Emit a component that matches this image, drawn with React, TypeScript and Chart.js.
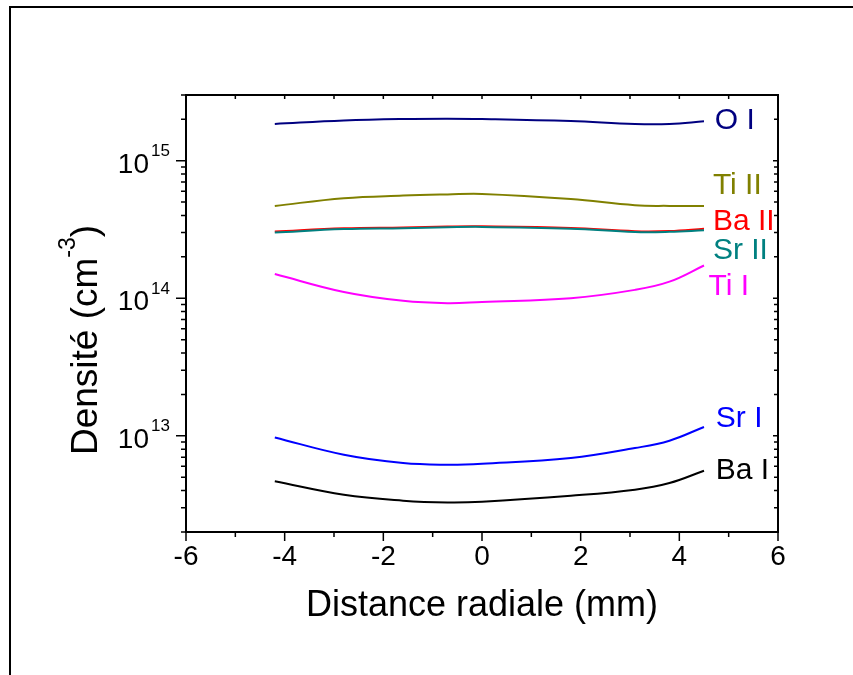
import React, { useEffect, useRef } from 'react';
import { Chart, registerables } from 'chart.js';

Chart.register(...registerables);

// ---- data ----
const radialDistance = [-4.2, -2.8, -1.6, -0.7, 0, 1.8, 3.1, 3.8, 4.5];
const densityOI = [1.85e15, 1.96e15, 2.01e15, 2.02e15, 2.01e15, 1.94e15, 1.85e15, 1.85e15, 1.93e15];
const densityTiII = [4.69e14, 5.33e14, 5.57e14, 5.68e14, 5.73e14, 5.26e14, 4.74e14, 4.69e14, 4.69e14];
const densityBaII = [3.05e14, 3.22e14, 3.27e14, 3.32e14, 3.33e14, 3.24e14, 3.07e14, 3.08e14, 3.2e14];
const densitySrII = [3.0e14, 3.18e14, 3.23e14, 3.28e14, 3.3e14, 3.2e14, 3.03e14, 3.04e14, 3.12e14];
const densityTiI = [1.5e14, 1.11e14, 9.57e13, 9.2e13, 9.4e13, 1.0e14, 1.15e14, 1.32e14, 1.73e14];
const densitySrI = [9.73e12, 7.29e12, 6.34e12, 6.17e12, 6.27e12, 6.9e12, 8.15e12, 9.22e12, 1.16e13];
const densityBaI = [4.67e12, 3.73e12, 3.38e12, 3.28e12, 3.32e12, 3.67e12, 4.06e12, 4.54e12, 5.58e12];

const seriesNames = ['O I', 'Ti II', 'Ba II', 'Sr II', 'Ti I', 'Sr I', 'Ba I'];
const seriesValues = [densityOI, densityTiII, densityBaII, densitySrII, densityTiI, densitySrI, densityBaI];
const seriesColors = ['#000080', '#808000', '#ff0000', '#008080', '#ff00ff', '#0000ff', '#000000'];
const seriesOrder = [0, 1, 3, 2, 4, 5, 6];
// label anchor (data coordinates)
const labelX = [4.72, 4.68, 4.68, 4.68, 4.59, 4.74, 4.74];
const labelY = [1.96e15, 6.55e14, 3.59e14, 2.21e14, 1.21e14, 1.33e13, 5.58e12];

const xMin = -6;
const xMax = 6;
const xMinorTicks = [-5, -3, -1, 1, 3, 5];
const yMin = 2e12;
const yMax = 3e15;
const yMajorTicks = [1e13, 1e14, 1e15];
const yExponents = ['13', '14', '15'];
const yMinorMantissas = [2, 3, 4, 5, 6, 7, 8, 9];

const xTitle = 'Distance radiale (mm)';
const yTitleMain = 'Densité (cm';
const yTitleSup = '-3';
const yTitleEnd = ')';

const FONT = "'Liberation Sans', Arial, Helvetica, sans-serif";

const decorPlugin = {
  id: 'decor',
  afterDraw(chart: any) {
    const ctx = chart.ctx as CanvasRenderingContext2D;
    const xs = chart.scales.x;
    const ys = chart.scales.y;
    const { left, right, top, bottom } = chart.chartArea;
    ctx.save();
    ctx.strokeStyle = '#000';
    ctx.fillStyle = '#000';

    // outer frame
    ctx.lineWidth = 2;
    ctx.beginPath();
    ctx.moveTo(10, 700);
    ctx.lineTo(10, 7);
    ctx.lineTo(900, 7);
    ctx.stroke();

    // plot box
    ctx.lineWidth = 2;
    ctx.beginPath();
    ctx.rect(left, top, right - left, bottom - top);
    ctx.stroke();

    // ticks
    ctx.lineWidth = 1.5;
    ctx.beginPath();
    const xMajor: number[] = xs.ticks.map((t: any) => t.value);
    xMajor.forEach((v) => {
      const px = xs.getPixelForValue(v);
      ctx.moveTo(px, bottom);
      ctx.lineTo(px, bottom + 9);
      ctx.moveTo(px, top);
      ctx.lineTo(px, top + 4);
    });
    xMinorTicks.forEach((v) => {
      const px = xs.getPixelForValue(v);
      ctx.moveTo(px, bottom);
      ctx.lineTo(px, bottom + 5);
      ctx.moveTo(px, top);
      ctx.lineTo(px, top + 4);
    });
    const decades = [12, 13, 14, 15];
    decades.forEach((e) => {
      const base = Math.pow(10, e);
      yMinorMantissas.forEach((m) => {
        const v = m * base;
        if (v < yMin || v > yMax) return;
        const py = ys.getPixelForValue(v);
        ctx.moveTo(left, py);
        ctx.lineTo(left - 5, py);
        ctx.moveTo(right, py);
        ctx.lineTo(right - 4, py);
      });
    });
    yMajorTicks.forEach((v) => {
      const py = ys.getPixelForValue(v);
      ctx.moveTo(left, py);
      ctx.lineTo(left - 10, py);
      ctx.moveTo(right, py);
      ctx.lineTo(right - 5, py);
    });
    ctx.stroke();

    // y tick labels with superscripts
    ctx.textBaseline = 'alphabetic';
    ctx.textAlign = 'left';
    yMajorTicks.forEach((v, i) => {
      const py = ys.getPixelForValue(v);
      ctx.font = `28px ${FONT}`;
      const w = ctx.measureText('10').width;
      ctx.fillText('10', 149 - w, py + 12);
      ctx.font = `17px ${FONT}`;
      ctx.fillText(yExponents[i], 151, py - 4.5);
    });

    // y title rotated
    ctx.save();
    ctx.translate(97, 340);
    ctx.rotate(-Math.PI / 2);
    ctx.font = `37px ${FONT}`;
    const w1 = ctx.measureText(yTitleMain).width;
    const w3 = ctx.measureText(yTitleEnd).width;
    ctx.font = `23px ${FONT}`;
    const w2 = ctx.measureText(yTitleSup).width;
    const total = w1 + w2 + w3;
    let x0 = -total / 2;
    ctx.font = `37px ${FONT}`;
    ctx.fillText(yTitleMain, x0, 0);
    x0 += w1;
    ctx.font = `23px ${FONT}`;
    ctx.fillText(yTitleSup, x0, -22);
    x0 += w2;
    ctx.font = `37px ${FONT}`;
    ctx.fillText(yTitleEnd, x0, 0);
    ctx.restore();

    // series labels
    ctx.font = `30px ${FONT}`;
    ctx.textBaseline = 'middle';
    ctx.textAlign = 'left';
    seriesNames.forEach((name, i) => {
      ctx.fillStyle = seriesColors[i];
      ctx.fillText(name, xs.getPixelForValue(labelX[i]), ys.getPixelForValue(labelY[i]));
    });

    ctx.restore();
  },
};

export default function App() {
  const canvasRef = useRef<HTMLCanvasElement | null>(null);

  useEffect(() => {
    document.body.style.margin = '0';
    const canvas = canvasRef.current;
    if (!canvas) return;
    const datasets = seriesNames.map((name, i) => ({
      label: name,
      data: radialDistance.map((x, j) => ({ x, y: seriesValues[i][j] })),
      borderColor: seriesColors[i],
      backgroundColor: seriesColors[i],
      borderWidth: 2,
      pointRadius: 0,
      tension: 0.4,
      fill: false,
      order: seriesOrder[i],
    }));
    const chart = new Chart(canvas, {
      type: 'line',
      data: { datasets },
      options: {
        responsive: false,
        animation: false,
        devicePixelRatio: 1,
        layout: { padding: { left: 0, right: 75, top: 95, bottom: 0 } },
        plugins: {
          legend: { display: false },
          tooltip: { enabled: false },
        },
        scales: {
          x: {
            type: 'linear',
            min: xMin,
            max: xMax,
            ticks: {
              stepSize: 2,
              color: '#000',
              font: { family: FONT, size: 28 },
              padding: 8,
              maxRotation: 0,
              autoSkip: false,
            },
            grid: { display: false, drawTicks: false },
            border: { display: false },
            title: {
              display: true,
              text: xTitle,
              color: '#000',
              font: { family: FONT, size: 36 },
              padding: { top: 0, bottom: 47 },
            },
            afterFit: (s: any) => {
              s.height = 675 - 532;
            },
          },
          y: {
            type: 'logarithmic',
            min: yMin,
            max: yMax,
            ticks: { display: false },
            grid: { display: false, drawTicks: false },
            border: { display: false },
            afterFit: (s: any) => {
              s.width = 186;
            },
          },
        },
      },
      plugins: [decorPlugin],
    } as any);
    return () => chart.destroy();
  }, []);

  return (
    <div style={{ width: 853, height: 675, background: '#fff' }}>
      <canvas ref={canvasRef} width={853} height={675} style={{ display: 'block' }} />
    </div>
  );
}
